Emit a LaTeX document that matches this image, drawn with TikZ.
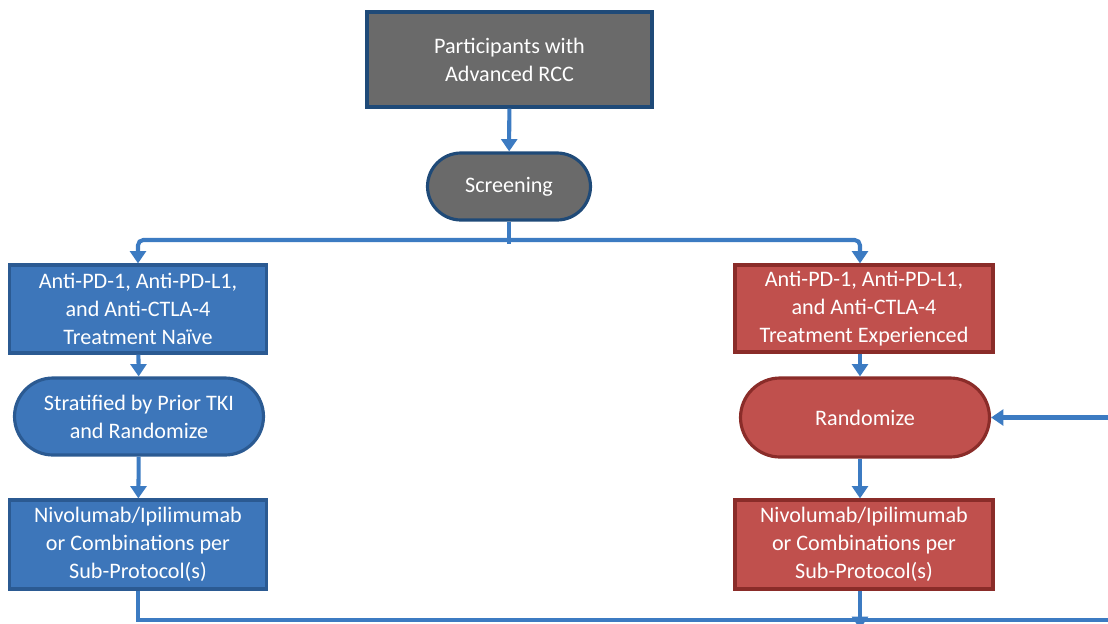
\documentclass[tikz,border=0pt]{standalone}
\usepackage{fontspec}
\setmainfont{Carlito}
\usetikzlibrary{arrows.meta,shapes.misc}

\definecolor{flowblue}{HTML}{3C7BC2}
\definecolor{boxblue}{HTML}{3D76BA}
\definecolor{edgeblue}{HTML}{2B5A92}
\definecolor{boxgray}{HTML}{6A6A6A}
\definecolor{edgegray}{HTML}{1F4A78}
\definecolor{boxred}{HTML}{C0504D}
\definecolor{edgered}{HTML}{8A2C29}

\begin{document}
\begin{tikzpicture}[
      every node/.style={align=center, text=white, font=\fontsize{12.6}{16}\selectfont, line width=1.8pt},
      stepbox/.style={rectangle, draw, minimum width=5.14cm, minimum height=1.76cm, inner sep=2pt},
      pill/.style={rounded rectangle, draw, minimum width=5.12cm, minimum height=1.56cm, inner sep=2pt},
      graybox/.style={fill=boxgray, draw=edgegray},
      bluebox/.style={fill=boxblue, draw=edgeblue},
      redbox/.style={fill=boxred, draw=edgered},
      link/.style={draw=flowblue, line width=2.3pt},
      flow/.style={link, -{Triangle[width=9pt,length=7pt]}}
    ]

    \useasboundingbox (0,0) rectangle (22.16,-12.46);

    % top of the flow
    \node (part) [stepbox, graybox, minimum width=5.7cm, minimum height=1.9cm] at (10.19,-1.19) {Participants with\\Advanced RCC};
    \node (screen) [pill, graybox, minimum width=3.4cm, minimum height=1.34cm] at (10.18,-3.73) {Screening};

    % left arm
    \node (naive) [stepbox, bluebox] at (2.76,-6.18) {Anti-PD-1, Anti-PD-L1,\\and Anti-CTLA-4\\Treatment Naïve};
    \node (strat) [pill, bluebox, minimum height=1.54cm] at (2.78,-8.33) {Stratified by Prior TKI\\and Randomize};
    \node (nivoL) [stepbox, bluebox, minimum height=1.78cm] at (2.76,-10.89) {Nivolumab/Ipilimumab\\or Combinations per\\Sub-Protocol(s)};

    % right arm
    \node (exper) [stepbox, redbox, minimum width=5.16cm, minimum height=1.74cm] at (17.28,-6.17) {Anti-PD-1, Anti-PD-L1,\\and Anti-CTLA-4\\Treatment Experienced};
    \node (rand) [pill, redbox, minimum height=1.58cm] at (17.3,-8.35) {Randomize};
    \node (nivoR) [stepbox, redbox, minimum width=5.16cm, minimum height=1.78cm] at (17.28,-10.89) {Nivolumab/Ipilimumab\\or Combinations per\\Sub-Protocol(s)};

    \coordinate (split) at (10.18,-4.8);
    \coordinate (back) at (22.4,-8.35);
    \coordinate (bottom) at (22.4,-12.4);
    \coordinate (endR) at (17.2,-12.58);

    \draw[flow] (part) -- (screen);
    \draw[link] (screen.south) -- ([yshift=-2pt]split);
    \draw[flow, rounded corners=3pt] (split) -| (naive.north -| 2.76,0);
    \draw[flow, rounded corners=3pt] (split) -| (exper.north -| 17.2,0);

    \draw[flow] (naive) -- (strat);
    \draw[flow] (strat) -- (nivoL);
    \draw[link] (nivoL.south) |- (bottom);

    \draw[flow] (exper.south -| 17.2,0) -- (rand.north -| 17.2,0);
    \draw[flow] (back) -- (rand.east);
    \draw[flow] (rand.south -| 17.2,0) -- (nivoR.north -| 17.2,0);
    \draw[flow] (nivoR.south -| 17.2,0) -- (endR);

\end{tikzpicture}
\end{document}
